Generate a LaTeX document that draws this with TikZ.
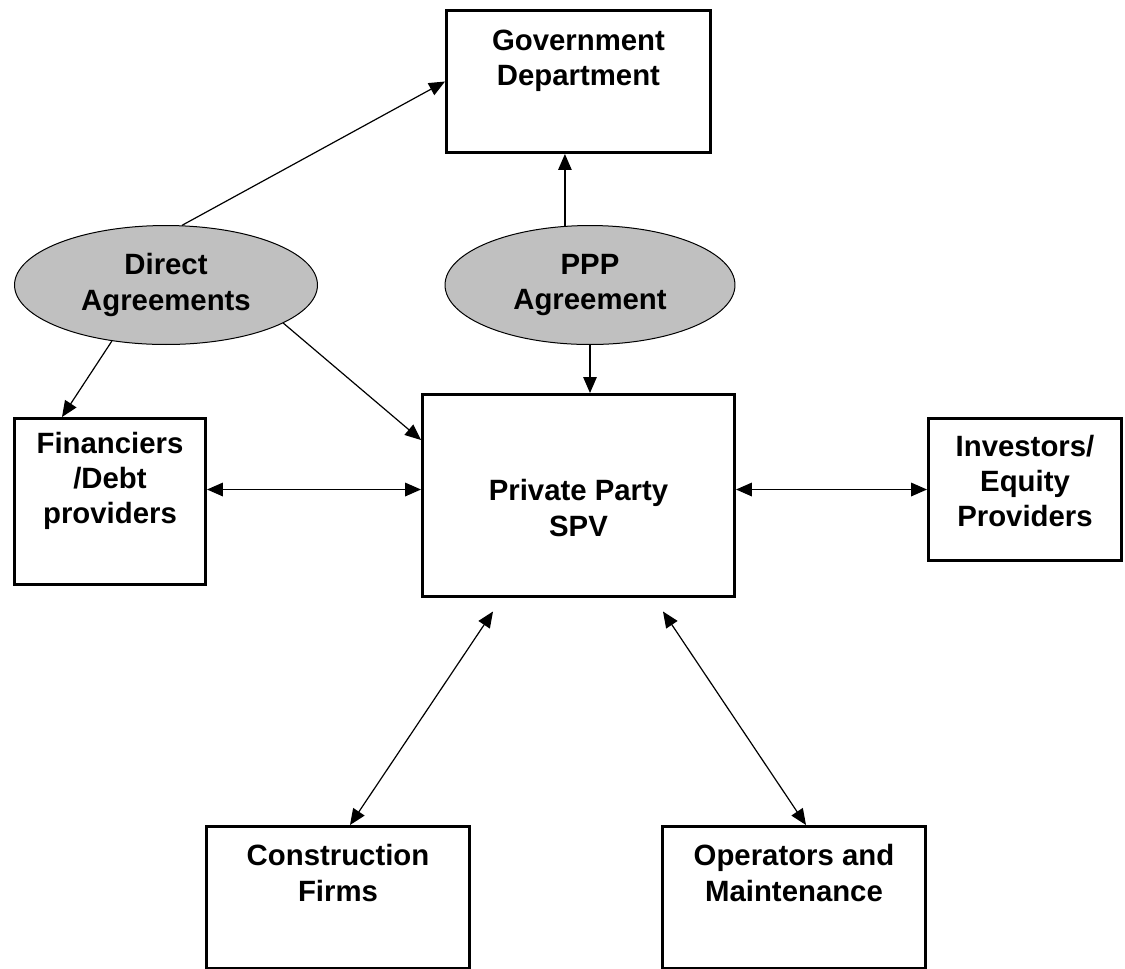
\documentclass[tikz,border=0pt]{standalone}
\usepackage{fontspec}
\setmainfont{Liberation Sans}
\usetikzlibrary{shapes.geometric, arrows.meta, positioning}
\tikzstyle{party} = [rectangle, draw=black, fill=white, line width=0.06cm, inner sep=0pt]
\tikzstyle{partytext} = [align=center, font=\fontsize{16.7}{20}\selectfont\bfseries]
\tikzstyle{agreement} = [ellipse, draw=black, fill={rgb, 255:red, 192; green, 192; blue, 192}, line width=0.02cm, inner sep=0pt, align=center, font=\fontsize{16.7}{20}\selectfont\bfseries]
\tikzstyle{link} = [line width=0.024cm, -{Triangle[length=0.32cm, width=0.27cm]}]
\tikzstyle{duplex} = [line width=0.024cm, {Triangle[length=0.32cm, width=0.27cm]}-{Triangle[length=0.32cm, width=0.27cm]}]
\tikzstyle{duplexthick} = [duplex, line width=0.036cm]

\begin{document}
\begin{tikzpicture}[x=0.02cm, y=-0.02cm]

		\useasboundingbox (0,0) rectangle (1125,968);
		\clip (0,0) rectangle (1125,968);

		\node (gov) [party, minimum width=5.28cm, minimum height=2.84cm] at (578.5,81.5) {};
		\node (gov_text) [partytext] at (578.5,61) {Government\\Department};

		\node (direct) [agreement, minimum width=6.06cm, minimum height=2.38cm] at (166,285) {Direct\\Agreements};
		\node (ppp) [agreement, minimum width=5.8cm, minimum height=2.38cm] at (590,285) {PPP\\Agreement};

		\node (spv) [party, minimum width=6.24cm, minimum height=4.04cm] at (578.5,495.5) {};
		\node (spv_text) [partytext] at (578.5,508) {Private Party\\SPV};

		\node (debt) [party, minimum width=3.82cm, minimum height=3.32cm] at (110,501.5) {};
		\node (debt_text) [partytext] at (110,481) {Financiers\\/Debt\\providers};

		\node (equity) [party, minimum width=3.86cm, minimum height=2.84cm] at (1025,489.5) {};
		\node (equity_text) [partytext] at (1025,481) {Investors/\\Equity\\Providers};

		\node (build) [party, minimum width=5.26cm, minimum height=2.83cm] at (338,897.25) {};
		\node (build_text) [partytext] at (338,873) {Construction\\Firms};

		\node (operate) [party, minimum width=5.26cm, minimum height=2.83cm] at (794,897.25) {};
		\node (operate_text) [partytext] at (794,873) {Operators and\\Maintenance};

		% agreements
		\draw [link] (direct.75) -- (gov.west);
		\draw [link] (direct.-134) -- ([xshift=-0.96cm]debt.north);
		\draw [link] (direct.-18) -- ([yshift=1.11cm]spv.west);

		\draw [link] (ppp.113) -- (ppp.113 |- gov.south);
		\draw [link] (ppp.south) -- (ppp.south |- spv.north);

		% parties round the SPV
		\draw [duplexthick] (debt.east |- equity.west) -- (spv.west |- equity.west);
		\draw [duplexthick] (spv.east |- equity.west) -- (equity.west);

		\draw [duplex] ([xshift=0.24cm]build.north) -- ([xshift=-1.71cm, yshift=-0.27cm]spv.south);
		\draw [duplex] ([xshift=0.24cm]operate.north) -- ([xshift=1.69cm, yshift=-0.27cm]spv.south);

\end{tikzpicture}
\end{document}
